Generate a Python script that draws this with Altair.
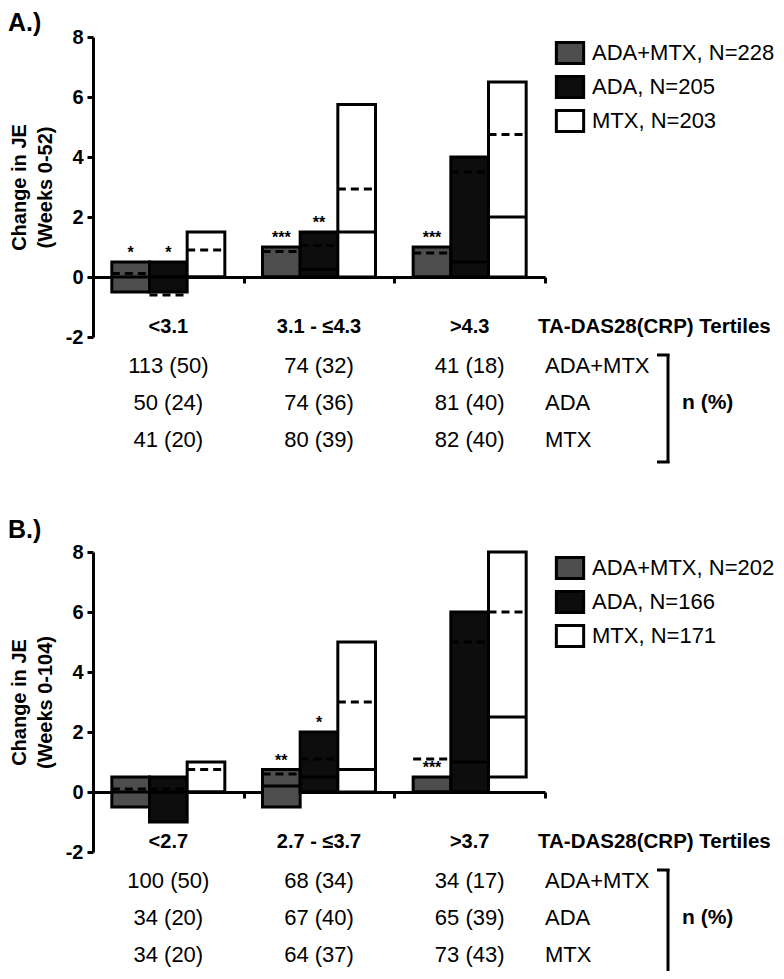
import altair as alt
import pandas as pd

FONT = "Liberation Sans"
W = 452
H = 930

treatments = ["ADA+MTX", "ADA", "MTX"]
fills = ["#4d4d4d", "#0d0d0d", "#ffffff"]

# ---- Panel A (weeks 0-52) ----
a_groups = ["<3.1", "3.1 - \u22644.3", ">4.3"]
a_legend = ["ADA+MTX, N=228", "ADA, N=205", "MTX, N=203"]
a_low = [-0.5, -0.5, 0.0, 0.0, 0.0, 0.0, 0.0, 0.0, 0.0]
a_high = [0.5, 0.5, 1.5, 1.0, 1.5, 5.75, 1.0, 4.0, 6.5]
a_mean = [0.12, -0.6, 0.9, 0.85, 1.05, 2.93, 0.8, 3.5, 4.75]
a_median = [0.0, 0.0, 0.0, 0.0, 0.25, 1.5, 0.0, 0.5, 2.0]
a_stars = ["*", "*", "", "***", "**", "", "***", "", ""]
a_counts = [["113 (50)", "74 (32)", "41 (18)"],
            ["50 (24)", "74 (36)", "81 (40)"],
            ["41 (20)", "80 (39)", "82 (40)"]]

# ---- Panel B (weeks 0-104) ----
b_groups = ["<2.7", "2.7 - \u22643.7", ">3.7"]
b_legend = ["ADA+MTX, N=202", "ADA, N=166", "MTX, N=171"]
b_low = [-0.5, -1.0, 0.0, -0.5, 0.0, 0.0, 0.0, 0.0, 0.5]
b_high = [0.5, 0.5, 1.0, 0.75, 2.0, 5.0, 0.5, 6.0, 8.0]
b_mean = [0.1, 0.1, 0.75, 0.6, 1.1, 3.0, 1.1, 5.0, 6.0]
b_median = [0.0, 0.0, 0.0, 0.2, 0.5, 0.75, 0.0, 1.0, 2.5]
b_stars = ["", "", "", "**", "*", "", "***", "", ""]
b_counts = [["100 (50)", "68 (34)", "34 (17)"],
            ["34 (20)", "67 (40)", "65 (39)"],
            ["34 (20)", "64 (37)", "73 (43)"]]

tick_values = [-2, 0, 2, 4, 6, 8]


def panel(tag, tag_y, ytitle, groups, legend_labels, low, high, mean, median, stars, counts, y0):
    rows = []
    for gi, g in enumerate(groups):
        for ti in range(3):
            k = gi * 3 + ti
            c = gi + 0.5 + (ti - 1) * 0.25
            rows.append(dict(group=g, treat=legend_labels[ti], x=c - 0.125, x2=c + 0.125, xc=c,
                             low=low[k], high=high[k], mean=mean[k], median=median[k], star=stars[k]))
    df = pd.DataFrame(rows)

    xs = alt.Scale(domain=[0, 3], nice=False, zero=False)
    ys = alt.Scale(domain=[-2, 8], range=[y0 + 300, y0], nice=False, zero=False)
    xa = alt.Axis(orient="bottom", values=[0, 1, 2, 3], labels=False, title=None, grid=False,
                  offset=y0 + 240 - H, tickSize=6, tickWidth=3, domainWidth=3,
                  domainColor="black", tickColor="black")
    ya = alt.Axis(orient="left", values=tick_values, title=ytitle, grid=False, tickSize=6,
                  tickWidth=3, domainWidth=3, domainColor="black", tickColor="black",
                  labelExpr="'' + datum.value",
                  labelFont=FONT, labelFontSize=20, labelFontWeight="bold", labelColor="black",
                  labelPadding=4, titleFont=FONT, titleFontSize=20, titleFontWeight="bold",
                  titleColor="black", titleLineHeight=26, titleX=-64, titleY=y0 + 150,
                  titleAngle=270, titleBaseline="bottom", titleAlign="center")

    def X(f):
        return alt.X(f, type="quantitative", scale=xs, axis=xa)

    def Y(f):
        return alt.Y(f, type="quantitative", scale=ys, axis=ya)

    base = alt.Chart(df)
    boxes = base.mark_rect(stroke="black", strokeWidth=3).encode(
        x=X("x"), x2=alt.X2("x2"), y=Y("low"), y2=alt.Y2("high"),
        fill=alt.Fill("treat:N", scale=alt.Scale(domain=legend_labels, range=fills),
                      legend=alt.Legend(orient="none", legendX=465, legendY=y0 + 4, title=None,
                                        symbolType="M-1.3,-1H1.3V1H-1.3Z", symbolSize=441,
                                        symbolStrokeColor="black", symbolStrokeWidth=3,
                                        symbolOpacity=1, labelFont=FONT, labelFontSize=22,
                                        labelColor="black", labelOffset=10, rowPadding=0,
                                        padding=0, labelLimit=300)))
    med = base.mark_rule(color="black", strokeWidth=3).encode(
        x=X("x"), x2=alt.X2("x2"), y=Y("median"))
    mn = base.mark_rule(color="black", strokeWidth=3, strokeDash=[8, 5]).encode(
        x=X("x"), x2=alt.X2("x2"), y=Y("mean"))
    st = base.transform_filter("datum.star != ''").mark_text(
        font=FONT, fontSize=16, fontWeight="bold", baseline="alphabetic", dy=-4, color="black"
    ).encode(x=X("xc"), y=Y("high"), text="star:N")

    gdf = pd.DataFrame({"xc": [0.5, 1.5, 2.5], "t": groups})
    cats = alt.Chart(gdf).mark_text(font=FONT, fontSize=20, fontWeight="bold", baseline="middle",
                                    color="black").encode(
        x=X("xc"), y=alt.value(y0 + 290), text="t:N")

    layers = [boxes, med, mn, st, cats]
    for ri, row in enumerate(counts):
        rdf = pd.DataFrame({"xc": [0.5, 1.5, 2.5], "t": row})
        layers.append(alt.Chart(rdf).mark_text(font=FONT, fontSize=22, baseline="middle",
                                               color="black").encode(
            x=X("xc"), y=alt.value(y0 + 329 + 37 * ri), text="t:N"))
        ldf = pd.DataFrame({"t": [treatments[ri]]})
        layers.append(alt.Chart(ldf).mark_text(font=FONT, fontSize=22, baseline="middle",
                                               align="left", color="black").encode(
            x=alt.value(452), y=alt.value(y0 + 329 + 37 * ri), text="t:N"))

    tdf = pd.DataFrame({"t": ["TA-DAS28(CRP) Tertiles"]})
    layers.append(alt.Chart(tdf).mark_text(font=FONT, fontSize=20.5, fontWeight="bold",
                                           baseline="middle", align="left", color="black").encode(
        x=alt.value(445), y=alt.value(y0 + 290), text="t:N"))
    ndf = pd.DataFrame({"t": ["n (%)"]})
    layers.append(alt.Chart(ndf).mark_text(font=FONT, fontSize=21, fontWeight="bold",
                                           baseline="middle", align="left", color="black").encode(
        x=alt.value(589), y=alt.value(y0 + 366), text="t:N"))
    pdf = pd.DataFrame({"t": [tag]})
    layers.append(alt.Chart(pdf).mark_text(font=FONT, fontSize=25, fontWeight="bold",
                                           baseline="middle", align="left", color="black").encode(
        x=alt.value(-85), y=alt.value(y0 + tag_y), text="t:N"))

    # bracket
    bdf = pd.DataFrame({"t": [1]})
    layers.append(alt.Chart(bdf).mark_rule(color="black", strokeWidth=3).encode(
        x=alt.value(575), y=alt.value(y0 + 317), y2=alt.value(y0 + 426)))
    layers.append(alt.Chart(bdf).mark_rule(color="black", strokeWidth=3).encode(
        x=alt.value(564), x2=alt.value(576.5), y=alt.value(y0 + 318)))
    layers.append(alt.Chart(bdf).mark_rule(color="black", strokeWidth=3).encode(
        x=alt.value(564), x2=alt.value(576.5), y=alt.value(y0 + 425)))

    return alt.layer(*layers)


pa = panel("A.)", -14, ["Change in JE", "(Weeks 0-52)"], a_groups, a_legend, a_low, a_high, a_mean,
           a_median, a_stars, a_counts, 0)
pb = panel("B.)", -22, ["Change in JE", "(Weeks 0-104)"], b_groups, b_legend, b_low, b_high, b_mean,
           b_median, b_stars, b_counts, 515)

chart = alt.layer(pa, pb).resolve_scale(x="independent", y="independent", fill="independent").properties(
    width=W, height=H,
    autosize=alt.AutoSizeParams(type="none"),
    padding={"left": 85, "top": 29, "right": 231, "bottom": 4},
).configure_view(stroke=None)

chart.save("out.html", embed_options={"renderer": "svg", "actions": False})
